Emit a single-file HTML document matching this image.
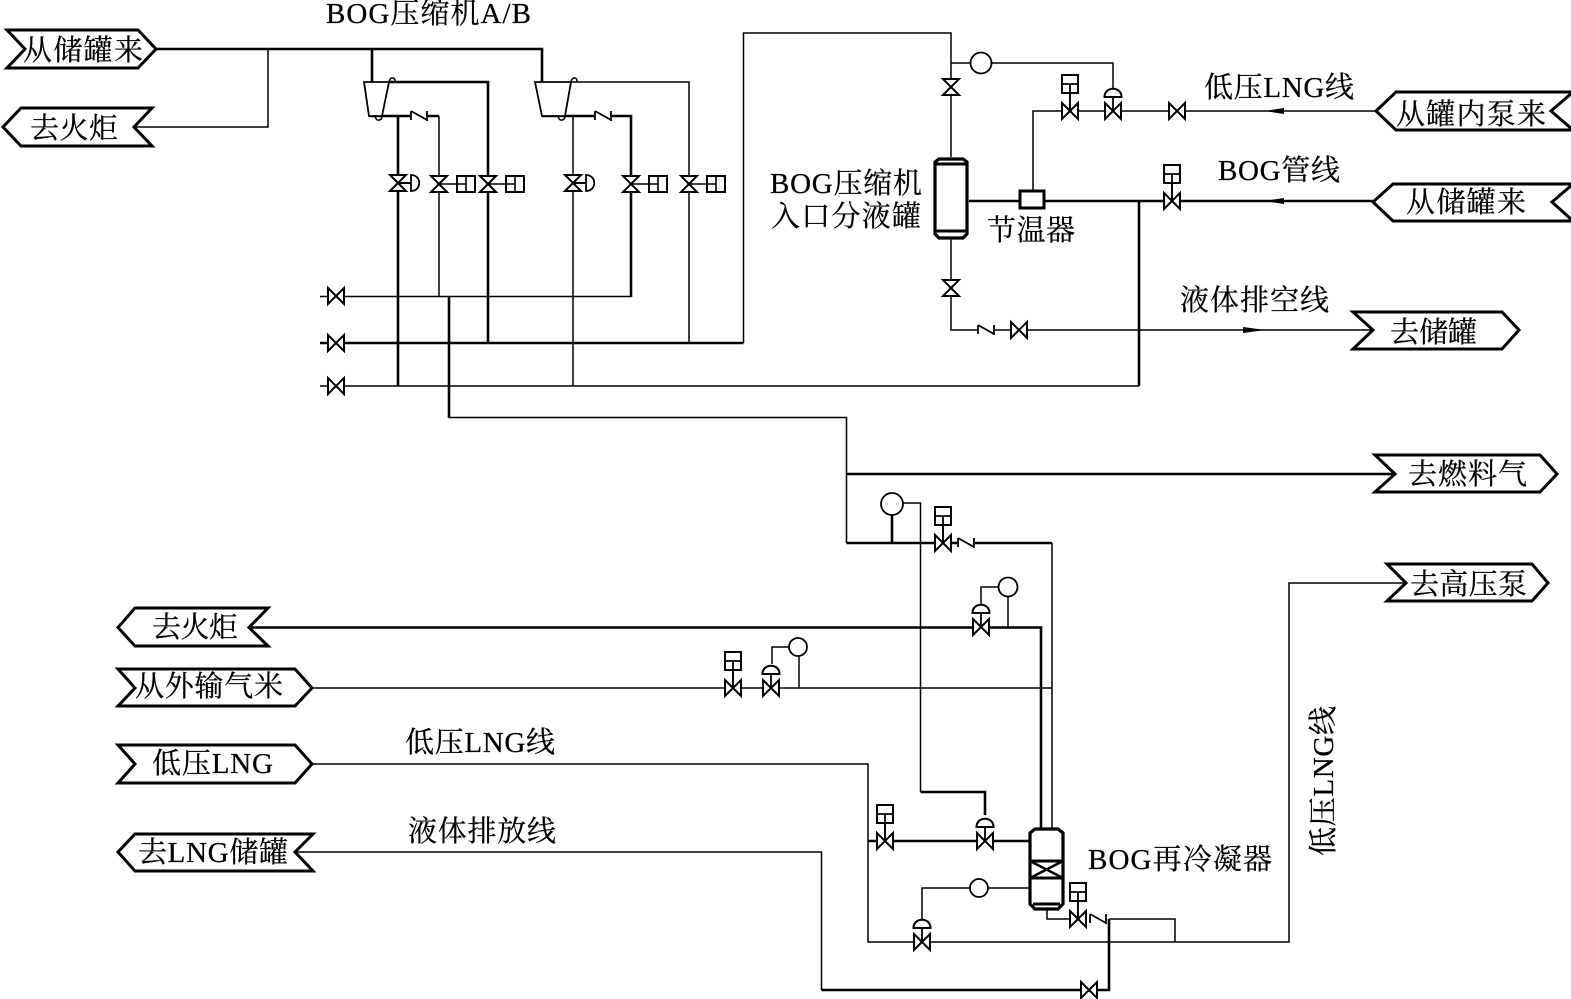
<!DOCTYPE html>
<html><head><meta charset="utf-8"><style>
html,body{margin:0;padding:0;background:#fff}
svg{display:block}
text{font-family:"Liberation Serif","Noto Serif CJK SC",serif;fill:#000;font-size:29px;stroke:#000;stroke-width:.25}
.t{fill:none;stroke:#000;stroke-width:1.5}
.k{fill:none;stroke:#000;stroke-width:2.6}
.l{fill:#fff;stroke:#000;stroke-width:3}
</style></head><body>
<svg width="1571" height="999" viewBox="0 0 1571 999" xmlns="http://www.w3.org/2000/svg">
<defs>
<path id="vh" d="M-8,-8L8,8V-8L-8,8Z" fill="#fff" stroke="#000" stroke-width="2"/>
<path id="vv" d="M-8,-8H8L-8,8H8Z" fill="#fff" stroke="#000" stroke-width="2"/>
<g id="ck"><rect x="-9" y="-5" width="18" height="10" fill="#fff"/><path d="M-8,-5V4M-8,-5L8,4M8,-5V5" fill="none" stroke="#000" stroke-width="1.8"/></g>
<g id="bu"><path d="M0,0V-27" stroke="#000" stroke-width="1.8"/><rect x="-8" y="-36" width="16" height="18" fill="#fff" stroke="#000" stroke-width="2"/><path d="M-8,-27H8M0,-27V0" stroke="#000" stroke-width="1.8"/></g>
<g id="br"><path d="M0,0H27" stroke="#000" stroke-width="1.6"/><rect x="18" y="-8" width="18" height="16" fill="#fff" stroke="#000" stroke-width="2"/><path d="M27,-8V8M18,0H27" stroke="#000" stroke-width="1.6"/></g>
<g id="dr"><path d="M0,0H13" stroke="#000" stroke-width="2"/><path d="M13,-8V8C24,8 24,-8 13,-8Z" fill="#fff" stroke="#000" stroke-width="1.8"/></g>
<g id="du"><path d="M0,0V-14" stroke="#000" stroke-width="1.8"/><path d="M-8.5,-14H8.5C8.5,-25 -8.5,-25 -8.5,-14Z" fill="#fff" stroke="#000" stroke-width="2"/></g>
</defs>

<!-- compressor section lines -->
<path class="k" d="M157,49H542V82M372,49V82"/>
<path class="t" d="M268,49V127H133"/>
<path class="k" d="M389,82H488V343M369,116H439M398,116V386"/>
<path class="t" d="M439,116V296"/>
<path class="t" d="M571,82H689V342M542,116H620"/>
<path class="k" d="M542,116H594M611,116H631V297"/>
<path class="t" d="M573,116V386"/>
<path class="t" d="M320,296.5H631M320,386H1139"/>
<path class="k" d="M320,343H743.5"/>
<path class="t" d="M743.5,343V33H951V157"/>
<path class="t" d="M449,386V417.5H846.5V543"/>
<path class="k" d="M449,296.5V417.5"/>
<path class="k" d="M846.5,474H1395"/>

<!-- compressors -->
<path d="M364,82H389L382,116H369Z" fill="#fff" stroke="#000" stroke-width="1.8"/>
<path d="M389,82C390,76 396,77 395,82M375,116C376,122 382,121 382,116" fill="none" stroke="#000" stroke-width="1.6"/>
<path d="M535,82H571L565,116H542Z" fill="#fff" stroke="#000" stroke-width="1.8"/>
<path d="M571,82C572,76 578,77 577,82M558,116C559,122 565,121 565,116" fill="none" stroke="#000" stroke-width="1.6"/>
<use href="#ck" x="419" y="116"/><use href="#ck" x="603" y="116"/>

<use href="#dr" x="398" y="183"/><use href="#vv" x="398" y="183"/>
<use href="#br" x="439" y="184"/><use href="#vv" x="439" y="184"/>
<use href="#br" x="488" y="184"/><use href="#vv" x="488" y="184"/>
<use href="#dr" x="573" y="183"/><use href="#vv" x="573" y="183"/>
<use href="#br" x="631" y="184"/><use href="#vv" x="631" y="184"/>
<use href="#br" x="689" y="184"/><use href="#vv" x="689" y="184"/>
<use href="#vh" x="336" y="296"/><use href="#vh" x="336" y="343"/><use href="#vh" x="336" y="386"/>

<!-- upper right -->
<path class="t" d="M951,63H1113V90M1033,191V111H1376M951,239V330H1373"/>
<path class="k" d="M969,201H1373"/>
<path class="k" d="M1139,201V386"/>
<use href="#vv" x="951" y="87"/><use href="#vv" x="951" y="288"/>
<circle cx="981" cy="63" r="10.5" fill="#fff" stroke="#000" stroke-width="1.8"/>
<use href="#bu" x="1070" y="111"/><use href="#vh" x="1070" y="111"/>
<use href="#du" x="1113" y="111"/><use href="#vh" x="1113" y="111"/>
<use href="#vh" x="1177" y="111"/>
<use href="#bu" x="1172" y="201"/><use href="#vh" x="1172" y="201"/>
<use href="#ck" x="986" y="330"/><use href="#vh" x="1019" y="330"/>
<rect x="1020" y="191" width="24" height="17" fill="#fff" stroke="#000" stroke-width="3"/>
<path d="M935,162L939,159H963L967,162V234L963,238H939L935,234Z" fill="#fff" stroke="#000" stroke-width="3.2"/>
<path d="M935,164H967M935,231H967" stroke="#000" stroke-width="3"/>
<path d="M1264,111L1284,108V114ZM1264,201L1284,198V204ZM1243,327L1265,330L1243,333Z" fill="#000"/>

<!-- lower section -->
<path class="k" d="M846.5,543H935M892,514V543M950,543H958M975,543H1052"/>
<path class="t" d="M1052,543V828M902,503H920.5V792"/>
<path class="k" d="M920.5,792H985V815M249,627.5H1041V828"/>
<path class="t" d="M1008,597V627M998,587H981V606"/>
<circle cx="892" cy="504" r="11" fill="#fff" stroke="#000" stroke-width="1.8"/>
<circle cx="1008" cy="587" r="9.5" fill="#fff" stroke="#000" stroke-width="1.8"/>
<use href="#bu" x="943" y="543"/><use href="#vh" x="943" y="543"/>
<use href="#ck" x="966" y="543"/>
<use href="#du" x="981" y="627"/><use href="#vh" x="981" y="627"/>
<path class="t" d="M313,688H1052M799,655V688M790,647H772V664"/>
<use href="#bu" x="733" y="688"/><use href="#vh" x="733" y="688"/>
<use href="#du" x="771" y="688"/><use href="#vh" x="771" y="688"/>
<circle cx="798" cy="647" r="9" fill="#fff" stroke="#000" stroke-width="1.8"/>
<path class="t" d="M313,764H868V942H1289V583H1406M1175,942V919H1109M295,852H821.5V990"/>
<path class="k" d="M868,841H1030M821.5,990H1109V919"/>
<path class="t" d="M922,926V888H1030"/>
<path class="t" d="M1047,908V919H1078"/>
<use href="#bu" x="885" y="841"/><use href="#vh" x="885" y="841"/>
<use href="#du" x="985" y="841"/><use href="#vh" x="985" y="841"/>
<circle cx="979" cy="888" r="9" fill="#fff" stroke="#000" stroke-width="1.8"/>
<use href="#du" x="922" y="942"/><use href="#vh" x="922" y="942"/>
<path d="M1030,833L1035,829H1058L1063,833V904L1058,909H1035L1030,904Z" fill="#fff" stroke="#000" stroke-width="3.2"/>
<path d="M1030,861H1063M1030,878H1063M1033,904H1060" stroke="#000" stroke-width="3"/>
<path d="M1030,861L1063,878M1063,861L1030,878" stroke="#000" stroke-width="2.4"/>
<use href="#bu" x="1078" y="919"/><use href="#vh" x="1078" y="919"/>
<use href="#ck" x="1098" y="919"/>
<use href="#vh" x="1089" y="990"/>

<!-- label boxes -->
<path class="l" d="M7,30H138L156,49L138,68H7L25,49Z"/>
<path class="l" d="M3,127L21,108H152L134,127L152,146H21Z"/>
<path class="l" d="M1376,111L1396,92H1573L1551,111L1573,130H1396Z"/>
<path class="l" d="M1373,202L1393,184H1573L1552,202L1573,221H1393Z"/>
<path class="l" d="M1353,312H1502L1519,330L1502,349H1353L1373,330Z"/>
<path class="l" d="M1375,455H1540L1557,474L1540,492H1375L1395,474Z"/>
<path class="l" d="M1387,564H1532L1548,583L1532,601H1387L1406,583Z"/>
<path class="l" d="M118,627.5L135,608H268L249,627.5L268,646H135Z"/>
<path class="l" d="M118,669H295L312,688L295,706H118L135,688Z"/>
<path class="l" d="M118,745H295L312,764L295,783H118L135,764Z"/>
<path class="l" d="M118,852L135,834H313L295,852L313,871H135Z"/>

<!-- text -->
<text x="23" y="60" textLength="120" lengthAdjust="spacing">从储罐来</text>
<text x="30" y="138" textLength="88" lengthAdjust="spacing">去火炬</text>
<text x="1396" y="124" textLength="150" lengthAdjust="spacing">从罐内泵来</text>
<text x="1406" y="212" textLength="120" lengthAdjust="spacing">从储罐来</text>
<text x="1390" y="342" textLength="87" lengthAdjust="spacing">去储罐</text>
<text x="1408" y="484" textLength="119" lengthAdjust="spacing">去燃料气</text>
<text x="1410" y="594" textLength="117" lengthAdjust="spacing">去高压泵</text>
<text x="152" y="637" textLength="86" lengthAdjust="spacing">去火炬</text>
<text x="135" y="696" textLength="148" lengthAdjust="spacing">从外输气米</text>
<text x="152" y="773" textLength="121" lengthAdjust="spacing">低压LNG</text>
<text x="138" y="862" textLength="150" lengthAdjust="spacing">去LNG储罐</text>
<text x="326" y="23" textLength="205" lengthAdjust="spacing">BOG压缩机A/B</text>
<text x="1204" y="97" textLength="150" lengthAdjust="spacing">低压LNG线</text>
<text x="1218" y="180" textLength="122" lengthAdjust="spacing">BOG管线</text>
<text x="1180" y="310" textLength="149" lengthAdjust="spacing">液体排空线</text>
<text x="770" y="193" textLength="152" lengthAdjust="spacing">BOG压缩机</text>
<text x="771" y="226" textLength="150" lengthAdjust="spacing">入口分液罐</text>
<text x="987" y="240" textLength="88" lengthAdjust="spacing">节温器</text>
<text x="405" y="752" textLength="150" lengthAdjust="spacing">低压LNG线</text>
<text x="408" y="841" textLength="148" lengthAdjust="spacing">液体排放线</text>
<text x="1088" y="869" textLength="184" lengthAdjust="spacing">BOG再冷凝器</text>
<text transform="translate(1333,856) rotate(-90)" textLength="150" lengthAdjust="spacing">低压LNG线</text>
</svg>
</body></html>
